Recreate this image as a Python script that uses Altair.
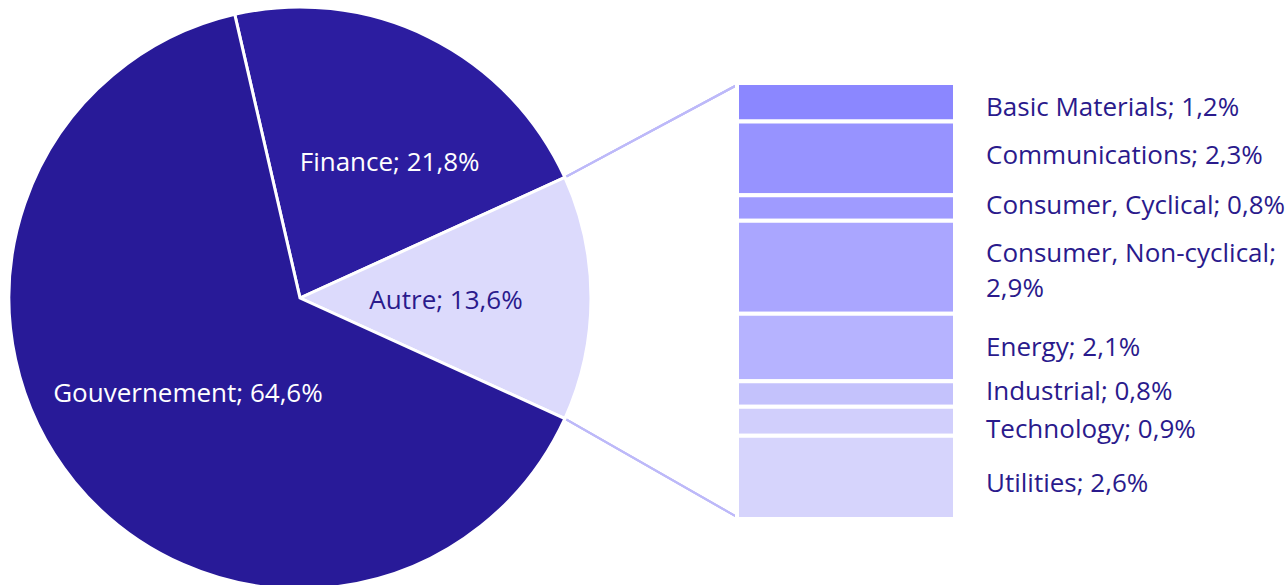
import math
import altair as alt
import pandas as pd

# ---- data ----
main_labels = ["Finance", "Autre", "Gouvernement"]
main_values = [21.8, 13.6, 64.6]

sub_labels = ["Basic Materials", "Communications", "Consumer, Cyclical",
              "Consumer, Non-cyclical", "Energy", "Industrial", "Technology", "Utilities"]
sub_values = [1.2, 2.3, 0.8, 2.9, 2.1, 0.8, 0.9, 2.6]

# ---- styles ----
main_colors = ["#2C1DA0", "#DCDAFC", "#281A98"]
main_text_colors = ["#FFFFFF", "#2A1A8C", "#FFFFFF"]
sub_colors = ["#8B87FF", "#9793FF", "#9F9BFF", "#AAA6FF",
              "#B6B3FF", "#C4C2FC", "#D1CFFC", "#D6D4FC"]
text_dark = "#2A1A8C"
line_color = "#BDB9F9"
FONT = "Open Sans"
PIE_FS = 26
SUB_FS = 26
LINE_H = 35


def fmt(v):
    return f"{v:.1f}".replace(".", ",") + "%"


# ---- layout ----
CX, CY, R = 300, 298, 291
BAR_X0, BAR_X1 = 737, 955
BAR_TOP, BAR_BOT = 83, 519
LABEL_X = 986
PIE_LABEL_R = 155
# small label nudges (pixels) to mirror the reference's manual label placement
pie_label_nudge = {"Finance": (21, 4), "Autre": (-9, 3), "Gouvernement": (8, -2)}
sub_label_nudge = {"Basic Materials": 6, "Communications": -2, "Consumer, Cyclical": -2,
                   "Consumer, Non-cyclical": 4, "Energy": 1, "Industrial": -2,
                   "Technology": 9, "Utilities": 7}

total_main = sum(main_values)
fin_share = main_values[0] / total_main
autre_share = main_values[1] / total_main
start = math.pi / 2 - 2 * math.pi * (fin_share + autre_share / 2)

pie_df = pd.DataFrame({
    "cat": main_labels,
    "v": main_values,
    "i": list(range(len(main_labels))),
    "label": [f"{l}; {fmt(v)}" for l, v in zip(main_labels, main_values)],
    "col": main_colors,
    "tc": main_text_colors,
})

sub_label_text = []
for l, v in zip(sub_labels, sub_values):
    if l == "Consumer, Non-cyclical":
        sub_label_text.append(f"{l};\n{fmt(v)}")
    else:
        sub_label_text.append(f"{l}; {fmt(v)}")

total_sub = sum(sub_values)
px_per_unit = (BAR_BOT - BAR_TOP) / total_sub

sub_df = pd.DataFrame({
    "cat": sub_labels,
    "v": sub_values,
    "i": list(range(len(sub_labels))),
    "label": sub_label_text,
    "col": sub_colors,
    "nudge": [sub_label_nudge[l] / px_per_unit for l in sub_labels],
})

theta_scale = alt.Scale(range=[start, start + 2 * math.pi])

pie_base = alt.Chart(pie_df).encode(
    theta=alt.Theta("v:Q", stack=True, scale=theta_scale),
    order=alt.Order("i:Q"),
    x=alt.value(CX),
    y=alt.value(CY),
)

arcs = pie_base.mark_arc(outerRadius=R, stroke="white", strokeWidth=3).encode(
    color=alt.Color("col:N", scale=None, legend=None)
)

pie_texts = []
for lab in main_labels:
    dx, dy = pie_label_nudge[lab]
    pie_texts.append(
        pie_base.mark_text(radius=PIE_LABEL_R, font=FONT, fontSize=PIE_FS, align="center",
                           baseline="middle", dx=dx, dy=dy).encode(
            text=alt.condition(alt.datum.cat == lab, "label:N", alt.value("")),
            color=alt.Color("tc:N", scale=None, legend=None),
        )
    )

y_scale = alt.Scale(domain=[0, total_sub], range=[BAR_TOP, BAR_BOT], nice=False, zero=False)

bar_base = alt.Chart(sub_df).transform_window(
    y1="sum(v)", sort=[alt.SortField("i")], frame=[None, 0]
).transform_calculate(
    y0="datum.y1 - datum.v", mid="datum.y1 - datum.v / 2 + datum.nudge"
)

bars = bar_base.mark_rect(stroke="white", strokeWidth=4).encode(
    x=alt.value(BAR_X0),
    x2=alt.value(BAR_X1),
    y=alt.Y("y0:Q", scale=y_scale, axis=None),
    y2="y1:Q",
    color=alt.Color("col:N", scale=None, legend=None),
)

text_enc = dict(
    x=alt.value(LABEL_X),
    y=alt.Y("mid:Q", scale=y_scale, axis=None),
    text="label:N",
)

bar_text_single = bar_base.transform_filter(
    "indexof(datum.label, '\\n') < 0"
).mark_text(font=FONT, fontSize=SUB_FS, align="left", baseline="middle",
            color=text_dark).encode(**text_enc)

bar_text_multi = bar_base.transform_filter(
    "indexof(datum.label, '\\n') >= 0"
).mark_text(font=FONT, fontSize=SUB_FS, align="left", baseline="middle",
            lineBreak="\n", lineHeight=LINE_H, dy=-LINE_H / 2,
            color=text_dark).encode(**text_enc)

# connector lines from Autre slice edges to bar corners
a1 = start + 2 * math.pi * fin_share
a2 = a1 + 2 * math.pi * autre_share
p1 = (CX + R * math.sin(a1), CY - R * math.cos(a1))
p2 = (CX + R * math.sin(a2), CY - R * math.cos(a2))

rule_top = alt.Chart(pie_df).mark_rule(color=line_color, strokeWidth=2).encode(
    x=alt.value(p1[0]), y=alt.value(p1[1]), x2=alt.value(BAR_X0), y2=alt.value(BAR_TOP + 2)
)
rule_bot = alt.Chart(pie_df).mark_rule(color=line_color, strokeWidth=2).encode(
    x=alt.value(p2[0]), y=alt.value(p2[1]), x2=alt.value(BAR_X0), y2=alt.value(BAR_BOT - 2)
)

chart = alt.layer(rule_top, rule_bot, arcs, *pie_texts, bars,
                  bar_text_single, bar_text_multi).properties(
    width=1287, height=585, autosize=alt.AutoSizeParams(type="none"), padding=0
).configure_view(stroke=None)

chart.save("out.html", embed_options={"renderer": "svg", "actions": False})
